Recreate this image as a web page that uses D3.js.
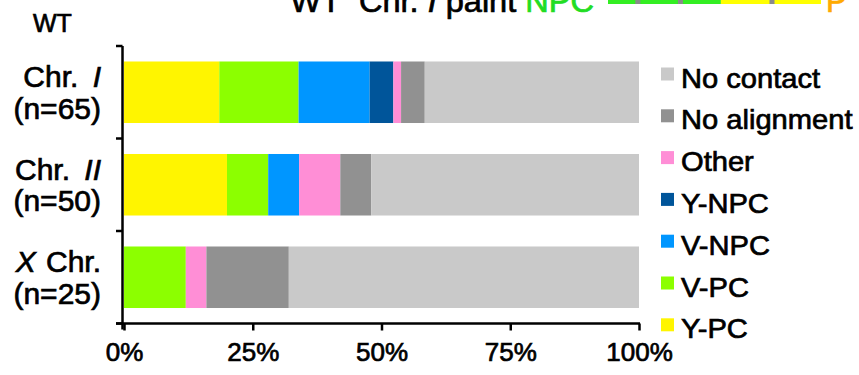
<!DOCTYPE html>
<html>
<head>
<meta charset="utf-8">
<script src="https://cdn.jsdelivr.net/npm/d3@7"></script>
<style>
    html, body { margin: 0; padding: 0; background: #fff; }
    svg { display: block; font-family: "Liberation Sans", Arial, Helvetica, sans-serif; }
    .heavy { stroke: #000; stroke-width: 0.7px; }
</style>
</head>
<body>
<div id="chart"></div>
<script>
// categories (bottom line of each label holds the sample size)
const categories = ['Chr. I', 'Chr. II', 'X Chr.'];
const sampleSizes = [65, 50, 25];

// percent of cells in each class, per chromosome
const seriesNames = ['Y-PC', 'V-PC', 'V-NPC', 'Y-NPC', 'Other', 'No alignment', 'No contact'];
const yPC = [18.5, 20, 0];
const vPC = [15.4, 8, 12];
const vNPC = [13.8, 6, 0];
const yNPC = [4.6, 0, 0];
const other = [1.5, 8, 4];
const noAlignment = [4.6, 6, 16];
const noContact = [41.6, 52, 68];
const seriesColors = ['#fff500', '#8cff00', '#0096ff', '#00559a', '#ff8ed6', '#919191', '#c9c9c9'];

const xTicks = [0, 25, 50, 75, 100];

// cropped header strip of the figure above (fractions of the strip)
const stripSegments = [{ from: 0, to: 0.53, color: '#33ee22' }, { from: 0.53, to: 1, color: '#ffff00' }];
const stripMarkers = [0.14, 0.34, 0.77];

const width = 859;
const height = 375;

const rows = categories.map((cat, i) => ({
    cat,
    n: sampleSizes[i],
    'Y-PC': yPC[i],
    'V-PC': vPC[i],
    'V-NPC': vNPC[i],
    'Y-NPC': yNPC[i],
    'Other': other[i],
    'No alignment': noAlignment[i],
    'No contact': noContact[i]
}));

const stacked = d3.stack().keys(seriesNames)(rows);
const color = d3.scaleOrdinal(seriesNames, seriesColors);

const x = d3.scaleLinear().domain([0, 100]).range([124, 639]);
const y = d3.scaleBand().domain(categories).range([46, 323.5]).paddingInner(0.335).paddingOuter(0.1675);

const svg = d3.select('#chart').append('svg').attr('width', width).attr('height', height);

// header, cut off at the top edge
const header = svg.append('g').attr('class', 'header');
const headText = header.append('text')
    .attr('class', 'heavy')
    .attr('transform', 'translate(594,11.5) scale(1.05,1)')
    .attr('text-anchor', 'end')
    .attr('font-size', 31)
    .attr('fill', '#000');
headText.append('tspan').text('WT\u00a0 Chr. ');
headText.append('tspan').attr('font-style', 'italic').text('I');
headText.append('tspan').text(' paint ');
headText.append('tspan').attr('fill', '#22dd22').attr('stroke', '#22dd22').text('NPC');

const strip = d3.scaleLinear().domain([0, 1]).range([608, 821]);
header.selectAll('rect.seg')
    .data(stripSegments)
    .join('rect')
    .attr('class', 'seg')
    .attr('x', (d) => strip(d.from))
    .attr('y', -20)
    .attr('width', (d) => strip(d.to) - strip(d.from))
    .attr('height', 24)
    .attr('fill', (d) => d.color);
header.selectAll('rect.mark')
    .data(stripMarkers)
    .join('rect')
    .attr('class', 'mark')
    .attr('x', (d) => strip(d) - 2.5)
    .attr('y', -20)
    .attr('width', 5)
    .attr('height', 24)
    .attr('fill', '#8a8a8a');
header.append('text')
    .attr('x', 826)
    .attr('y', 11.5)
    .attr('font-size', 31)
    .attr('fill', '#ffaa00')
    .attr('stroke', '#ffaa00')
    .attr('stroke-width', 0.7)
    .text('P');

// "WT" panel label
svg.append('text')
    .attr('class', 'heavy')
    .attr('x', 33)
    .attr('y', 32)
    .attr('font-size', 25)
    .text('WT');

// bars
svg.append('g')
    .selectAll('g')
    .data(stacked)
    .join('g')
    .attr('fill', (d) => color(d.key))
    .selectAll('rect')
    .data((d) => d.filter((v) => v[1] - v[0] > 0))
    .join('rect')
    .attr('x', (d) => x(d[0]))
    .attr('y', (d) => y(d.data.cat))
    .attr('width', (d) => x(d[1]) - x(d[0]))
    .attr('height', y.bandwidth());

// y axis: line with ticks at band boundaries
const yAxis = svg.append('g').attr('stroke', '#000').attr('stroke-width', 2.5);
const [y0, y1] = y.range();
yAxis.append('line').attr('x1', 122.5).attr('x2', 122.5).attr('y1', y0).attr('y2', y1 + 6);
yAxis.selectAll('line.tick')
    .data(d3.range(categories.length + 1))
    .join('line')
    .attr('class', 'tick')
    .attr('x1', 116)
    .attr('x2', 122.5)
    .attr('y1', (i) => y0 + i * y.step())
    .attr('y2', (i) => y0 + i * y.step());

// x axis
const xAxis = svg.append('g')
    .attr('transform', `translate(0,${y1})`)
    .call(d3.axisBottom(x).tickValues(xTicks).tickSize(7).tickSizeOuter(0).tickFormat((d) => `${d}%`));
xAxis.select('.domain').remove();
xAxis.append('line')
    .attr('x1', 116)
    .attr('x2', x(100) + 1)
    .attr('stroke', '#000')
    .attr('stroke-width', 2.5);
xAxis.selectAll('.tick line').attr('stroke', '#000').attr('stroke-width', 2.5);
xAxis.selectAll('.tick text')
    .attr('class', 'heavy')
    .attr('y', 37)
    .attr('dy', null)
    .attr('font-size', 26)
    .attr('fill', '#000');

// category labels
const labels = svg.append('g')
    .attr('class', 'heavy')
    .attr('font-size', 30)
    .attr('fill', '#000')
    .attr('text-anchor', 'end');
labels.selectAll('text.top')
    .data(categories)
    .join('text')
    .attr('class', 'top')
    .attr('x', 101)
    .attr('y', (d) => y(d) + y.bandwidth() / 2 - 5)
    .each(function (d) {
        const t = d3.select(this);
        if (d.startsWith('X')) {
            t.append('tspan').attr('font-style', 'italic').text('X');
            t.append('tspan').attr('dx', 2).text(' Chr.');
        } else {
            const [pre, num] = d.split(' ');
            t.append('tspan').text(`${pre} `);
            t.append('tspan').attr('dx', 6).attr('font-style', 'italic').text(num);
        }
    });
labels.selectAll('text.bottom')
    .data(categories)
    .join('text')
    .attr('class', 'bottom')
    .attr('x', 101)
    .attr('y', (d) => y(d) + y.bandwidth() / 2 + 26.5)
    .text((d, i) => `(n=${sampleSizes[i]})`);

// legend, top to bottom is the reverse of the stack order
const legendItems = seriesNames.slice().reverse();
const legend = svg.append('g')
    .selectAll('g')
    .data(legendItems)
    .join('g')
    .attr('transform', (d, i) => `translate(661,${87.5 + i * 41.8})`);
legend.append('rect')
    .attr('x', 0)
    .attr('y', -20)
    .attr('width', 13)
    .attr('height', 13)
    .attr('fill', (d) => color(d));
legend.append('text')
    .attr('class', 'heavy')
    .attr('transform', 'translate(20,0) scale(1.04,1)')
    .attr('font-size', 28)
    .attr('fill', '#000')
    .text((d) => d);
</script>
</body>
</html>
